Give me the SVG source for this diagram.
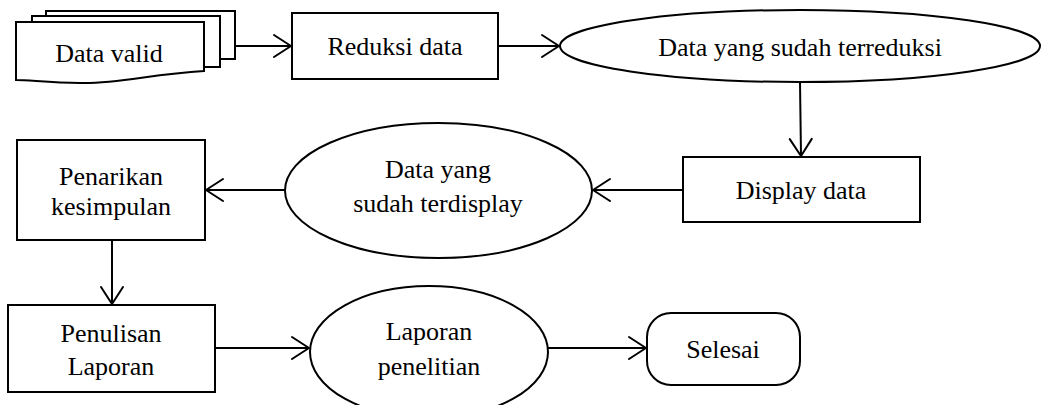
<svg xmlns="http://www.w3.org/2000/svg" width="1045" height="405" viewBox="0 0 1045 405">
  <style>
    .shape { fill: #ffffff; stroke: #000000; stroke-width: 2; }
    .label { font-family: "Liberation Serif", "Times New Roman", serif; font-size: 26px; fill: #000000; text-anchor: middle; }
    .conn { fill: none; stroke: #000000; stroke-width: 2; marker-end: url(#open-arrow); }
  </style>
  <defs>
    <marker id="open-arrow" markerUnits="userSpaceOnUse" markerWidth="24" markerHeight="28" viewBox="-20 -14 24 28" refX="0" refY="0" orient="auto">
      <path d="M-17,-11 L0,0 L-17,11" fill="none" stroke="#000000" stroke-width="2" stroke-linejoin="round" stroke-linecap="round"/>
    </marker>
  </defs>
  <rect width="1045" height="405" fill="#ffffff"/>

  <!-- connectors -->
  <g id="connectors">
    <line class="conn" x1="235" y1="46" x2="291" y2="46"/>
    <line class="conn" x1="498" y1="46" x2="559" y2="46"/>
    <line class="conn" x1="800" y1="82" x2="801" y2="156"/>
    <line class="conn" x1="683" y1="190" x2="593" y2="190"/>
    <line class="conn" x1="285" y1="190" x2="206" y2="190"/>
    <line class="conn" x1="112" y1="240" x2="112" y2="304"/>
    <line class="conn" x1="215" y1="348" x2="309" y2="348"/>
    <line class="conn" x1="548" y1="348" x2="646" y2="348"/>
  </g>

  <!-- multi-document input -->
  <g id="data-valid">
    <path class="shape" d="M46,11 H235 V59 H220 V16 H46 Z"/>
    <path class="shape" d="M32,16 H220 V67 H204 V22 H32 Z"/>
    <path class="shape" d="M16,22 H204 V71 C150,74 120,84 80,83 C50,83 30,80 16,80 Z"/>
    <text class="label" x="109" y="62">Data valid</text>
  </g>

  <g id="reduksi-data">
    <rect class="shape" x="292" y="13" width="206" height="66"/>
    <text class="label" x="395" y="55">Reduksi data</text>
  </g>

  <g id="data-terreduksi">
    <ellipse class="shape" cx="800" cy="46" rx="240" ry="36"/>
    <text class="label" x="800" y="56">Data yang sudah terreduksi</text>
  </g>

  <g id="display-data">
    <rect class="shape" x="683" y="157" width="237" height="65"/>
    <text class="label" x="801" y="199">Display data</text>
  </g>

  <g id="data-terdisplay">
    <ellipse class="shape" cx="438.5" cy="190.5" rx="153.5" ry="67.5"/>
    <text class="label" x="438" y="178">Data yang</text>
    <text class="label" x="438" y="212">sudah terdisplay</text>
  </g>

  <g id="penarikan-kesimpulan">
    <rect class="shape" x="17" y="140" width="188" height="100"/>
    <text class="label" x="111" y="185">Penarikan</text>
    <text class="label" x="111" y="215">kesimpulan</text>
  </g>

  <g id="penulisan-laporan">
    <rect class="shape" x="8" y="305" width="207" height="87"/>
    <text class="label" x="111" y="342">Penulisan</text>
    <text class="label" x="111" y="375">Laporan</text>
  </g>

  <g id="laporan-penelitian">
    <ellipse class="shape" cx="429" cy="352" rx="119" ry="66"/>
    <text class="label" x="429" y="340">Laporan</text>
    <text class="label" x="429" y="375">penelitian</text>
  </g>

  <g id="selesai">
    <rect class="shape" x="647" y="313" width="153" height="72" rx="24" ry="24"/>
    <text class="label" x="723" y="358">Selesai</text>
  </g>
</svg>
